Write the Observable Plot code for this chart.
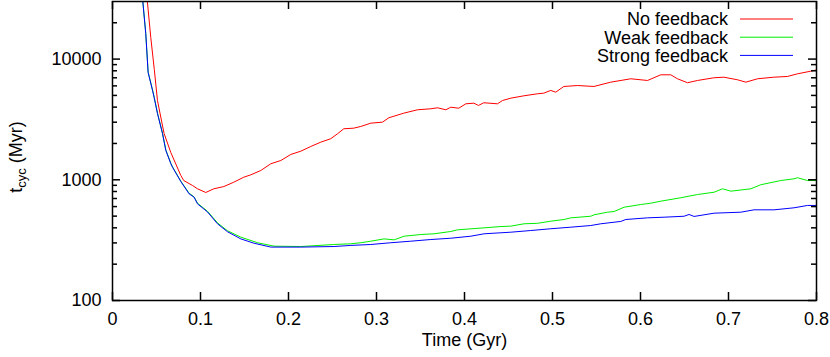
<!DOCTYPE html>
<html><head><meta charset="utf-8">
<script src="https://cdn.jsdelivr.net/npm/d3@7"></script>
<script src="https://cdn.jsdelivr.net/npm/@observablehq/plot@0.6"></script>
<style>body{margin:0;background:#fff;}</style>
</head><body><div id="chart"></div>
<script>
const seriesNames = ["No feedback", "Weak feedback", "Strong feedback"];
const seriesColors = ["#ff0000", "#00ee00", "#0000ff"];

const timeNo = [0.038,0.0435,0.0475,0.0511,0.0586,0.0663,0.0776,0.081,0.0909,0.0966,0.106,0.1151,0.1265,0.1378,0.1492,0.1572,0.1685,0.1799,0.1913,0.2026,0.214,0.2253,0.2367,0.248,0.2557,0.2628,0.2742,0.2822,0.2935,0.3068,0.314,0.331,0.3466,0.3617,0.3693,0.3788,0.3844,0.3935,0.4015,0.4106,0.4159,0.4219,0.4375,0.4432,0.4526,0.4674,0.483,0.4901,0.498,0.5037,0.5128,0.5284,0.547,0.5662,0.589,0.608,0.623,0.6344,0.642,0.6534,0.6648,0.6833,0.6947,0.7102,0.7197,0.733,0.7515,0.767,0.7784,0.7935,0.8];
const tcycNo = [40000,15100,8200,4540,2420,1680,1087,986,897,842,785,842,879,955,1051,1100,1194,1358,1445,1622,1726,1888,2050,2189,2406,2647,2678,2767,2946,3003,3265,3565,3803,3875,3950,3803,3993,3918,4262,4312,4130,4347,4262,4540,4745,4963,5160,5220,5500,5320,5930,6040,5930,6440,6870,6650,7410,7410,6870,6370,6650,7000,7080,6740,6440,6870,7080,7180,7550,7940,8130];

const timeWeak = [0.0333,0.0378,0.0405,0.0455,0.0473,0.0511,0.0568,0.0606,0.0663,0.0682,0.0776,0.087,0.0927,0.0966,0.108,0.1193,0.1307,0.1458,0.1648,0.1836,0.214,0.2514,0.2708,0.2822,0.2935,0.3086,0.32,0.3314,0.3503,0.3655,0.3844,0.392,0.4223,0.4413,0.4526,0.4677,0.483,0.498,0.5132,0.5208,0.5435,0.5473,0.5625,0.57,0.5814,0.6003,0.6117,0.6231,0.6458,0.6648,0.6836,0.6932,0.7026,0.7253,0.7367,0.7594,0.7745,0.7784,0.7898,0.8];
const tcycWeak = [37000,16300,7800,5550,4850,3580,2440,1770,1370,1280,975,775,722,640,548,440,378,335,301,282,280,291,295,301,310,324,318,341,352,357,373,385,400,410,413,432,436,454,469,484,499,513,539,546,593,624,640,665,710,755,789,842,805,842,910,986,1019,1040,986,986];

const timeStrong = [0.0333,0.0378,0.0405,0.0455,0.0473,0.0511,0.0568,0.0606,0.0663,0.0682,0.0776,0.087,0.0927,0.0966,0.108,0.1193,0.1307,0.1458,0.1609,0.1799,0.214,0.2518,0.2708,0.2935,0.3163,0.339,0.3617,0.3844,0.4072,0.4223,0.4526,0.4753,0.498,0.5208,0.5435,0.5549,0.5776,0.5833,0.608,0.6268,0.6495,0.6552,0.6609,0.6836,0.714,0.729,0.7518,0.7745,0.7898,0.8];
const tcycStrong = [37000,16300,7740,5500,4830,3540,2420,1750,1358,1271,968,766,718,632,541,432,371,324,298,277,277,280,286,291,301,310,320,328,341,357,368,380,393,405,418,432,452,469,484,490,499,516,497,529,539,564,564,586,613,613];

const xTicks = [0, 0.1, 0.2, 0.3, 0.4, 0.5, 0.6, 0.7, 0.8];
const yMajorTicks = [100, 1000, 10000];
const yMinorTicks = [200,300,400,500,600,700,800,900,2000,3000,4000,5000,6000,7000,8000,9000,20000];
const xTitle = "Time (Gyr)";

const rows = [
  ...timeNo.map((t, i) => ({t, v: tcycNo[i], s: seriesNames[0]})),
  ...timeWeak.map((t, i) => ({t, v: tcycWeak[i], s: seriesNames[1]})),
  ...timeStrong.map((t, i) => ({t, v: tcycStrong[i], s: seriesNames[2]}))
];

const W = 830, H = 357, mT = 1, mR = 14, mB = 57, mL = 112;
const frameW = W - mL - mR, frameH = H - mT - mB;
const major = 8, minor = 5;
const tk = {stroke: "#000", strokeWidth: 1.5};

const plot = Plot.plot({
  width: W, height: H,
  marginTop: mT, marginRight: mR, marginBottom: mB, marginLeft: mL,
  style: {fontFamily: "'Liberation Sans', Arial, Helvetica, sans-serif", fontSize: "18px", background: "#fff", color: "#000"},
  x: {domain: [0, 0.8]},
  y: {type: "log", domain: [100, 30000]},
  color: {domain: seriesNames, range: seriesColors},
  marks: [
    Plot.line(rows, {x: "t", y: "v", z: "s", stroke: "s", strokeWidth: 1, clip: true}),
    // inward ticks on all four sides
    Plot.tickX(xTicks, {...tk, x: d => d, insetTop: frameH - major}),
    Plot.tickX(xTicks, {...tk, x: d => d, insetBottom: frameH - major}),
    Plot.tickY(yMajorTicks, {...tk, y: d => d, insetRight: frameW - major}),
    Plot.tickY(yMajorTicks, {...tk, y: d => d, insetLeft: frameW - major}),
    Plot.tickY(yMinorTicks, {...tk, y: d => d, insetRight: frameW - minor}),
    Plot.tickY(yMinorTicks, {...tk, y: d => d, insetLeft: frameW - minor}),
    // tick labels
    Plot.axisX(xTicks, {anchor: "bottom", tickSize: 0, tickPadding: 12, tickFormat: d => d === 0 ? "0" : d.toFixed(1), label: null}),
    Plot.axisY(yMajorTicks, {anchor: "left", tickSize: 0, tickPadding: 11, tickFormat: d => String(d), label: null}),
    Plot.text([xTitle], {frameAnchor: "bottom", dy: 45, text: d => d, fontSize: 18, fill: "#000"}),
    Plot.frame({stroke: "#000", strokeWidth: 1.5})
  ]
});
document.getElementById("chart").appendChild(plot);

// y-axis title with subscript
const svg = d3.select(plot);
const yl = svg.append("text")
  .attr("transform", "translate(22,157) rotate(-90)")
  .attr("text-anchor", "middle")
  .attr("font-size", 18)
  .attr("fill", "#000");
yl.append("tspan").text("t");
yl.append("tspan").attr("font-size", 13).attr("dy", 4).text("cyc");
yl.append("tspan").attr("dy", -4).text(" (Myr)");

// legend
const lg = svg.append("g").attr("font-size", 18).attr("fill", "#000");
seriesNames.forEach((name, i) => {
  const y = 19 + i * 18.2;
  lg.append("text").attr("x", 728).attr("y", y).attr("dy", "0.35em").attr("text-anchor", "end").text(name);
  lg.append("line").attr("x1", 740).attr("x2", 793).attr("y1", y).attr("y2", y)
    .attr("stroke", seriesColors[i]).attr("stroke-width", 1);
});
</script>
</body></html>
